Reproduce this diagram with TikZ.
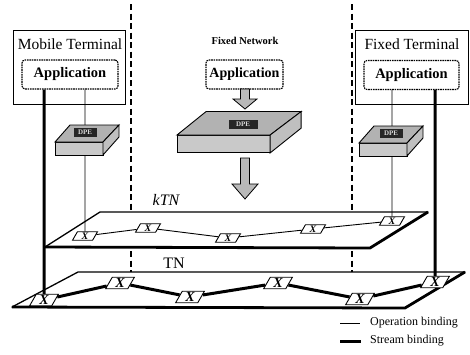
\documentclass[tikz,border=0pt]{standalone}
\usepackage{fontspec}
\setmainfont{Liberation Serif}[BoldFont={Liberation Serif Bold}, ItalicFont={Liberation Serif Italic}, BoldItalicFont={Liberation Serif Bold Italic}]
\usetikzlibrary{shapes.geometric}

\tikzset{
  termbox/.style={draw, line width=0.9pt, fill=white, inner sep=0pt},
  termtitle/.style={font=\fontsize{15.5}{16}\selectfont, inner sep=0pt},
  appbox/.style={draw, line width=1.1pt, dash pattern=on 1.6pt off 0.8pt,
    rounded corners=3pt, fill=white, inner sep=0pt,
    font=\fontsize{14.5}{15}\selectfont\bfseries},
  xnode/.style={draw, fill=white, line width=0.9pt, trapezium,
    trapezium left angle=60, trapezium right angle=120,
    inner xsep=1.5pt, inner ysep=0pt, minimum height=11.5pt,
    font=\fontsize{14}{14}\selectfont\itshape\bfseries},
  kxnode/.style={xnode, minimum height=8.5pt, inner xsep=2.5pt,
    font=\fontsize{10}{10}\selectfont\itshape\bfseries},
  opbind/.style={line width=0.9pt},
  stbind/.style={line width=3pt, line join=round},
  separator/.style={line width=1.6pt, dash pattern=on 6pt off 3.5pt},
  plane/.style={draw, fill=white, line width=1.3pt, line join=round},
  planeedge/.style={line width=2.8pt, line join=round},
  dpefront/.style={fill=gray!42, draw=black, line width=0.9pt},
  dpetop/.style={fill=gray!60, draw=black, line width=0.9pt},
  dpeside/.style={fill=gray!50, draw=black, line width=0.9pt},
  dpelabel/.style={fill=black!85, text=white!85!black, inner sep=1pt,
    font=\fontsize{7}{7}\selectfont\bfseries, minimum height=9pt},
  blockarrow/.style={fill=gray!55, draw=black, line width=0.8pt, line join=miter},
  pics/dpeslab/.style={code={
    \filldraw[dpefront] (0,0) rectangle (48,13);
    \filldraw[dpetop] (0,0) -- (48,0) -- (64,-17) -- (15,-17) -- cycle;
    \filldraw[dpeside] (48,0) -- (64,-17) -- (64,-5) -- (48,13) -- cycle;
  }}
}

\begin{document}
\begin{tikzpicture}[x=1pt, y=-1pt]
\useasboundingbox (0,0) rectangle (470,354);

% domain separators (the planes hide the parts behind them)
\coordinate (sepLa) at (131,4);
\coordinate (sepLb) at (131,272);
\coordinate (sepRa) at (352,4);
\coordinate (sepRb) at (352,272);
\draw[separator] (sepLa) -- (sepLb);
\draw[separator] (sepRa) -- (sepRb);

% TN plane
\filldraw[plane] (12,307) -- (78,272) -- (465,272) -- (405,308) -- cycle;
\draw[planeedge] (12,307) -- (405,308) -- (465,272);
% kTN plane
\filldraw[plane] (45,247) -- (100,212) -- (428,212) -- (370,248) -- cycle;
\draw[planeedge] (45,247) -- (370,248) -- (428,212);

\node[font=\fontsize{16}{16}\selectfont\itshape] (ktnlbl) at (166,200) {kTN};
\node[font=\fontsize{16}{16}\selectfont] (tnlbl) at (174,263) {TN};

% nodes on the TN plane
\node[xnode] (tn1) at (44,300) {X};
\node[xnode] (tn2) at (120,283) {X};
\node[xnode] (tn3) at (190,297) {X};
\node[xnode] (tn4) at (278,283) {X};
\node[xnode] (tn5) at (360,299) {X};
\node[xnode] (tn6) at (435,282) {X};

% nodes on the kTN plane
\node[kxnode] (ktn1) at (85,236) {X};
\node[kxnode] (ktn2) at (148,228) {X};
\node[kxnode] (ktn3) at (228,238) {X};
\node[kxnode] (ktn4) at (313,229) {X};
\node[kxnode] (ktn5) at (392,221) {X};

% stream and operation bindings along the planes
\draw[stbind] (tn1) -- (tn2) -- (tn3) -- (tn4) -- (tn5) -- (tn6);
\draw[opbind] (ktn1) -- (ktn2) -- (ktn3) -- (ktn4) -- (ktn5);

% terminals
\node[termbox, minimum width=112pt, minimum height=74pt] (mt) at (69,67) {};
\node[termtitle] (mttitle) at (70,44) {Mobile Terminal};
\node[appbox, minimum width=96pt, minimum height=29pt] (mtapp) at (70,74.5) {Application};

\node[termbox, minimum width=113pt, minimum height=74pt] (ft) at (411.5,67) {};
\node[termtitle] (fttitle) at (412,44) {Fixed Terminal};
\node[appbox, minimum width=95pt, minimum height=29pt] (ftapp) at (411.5,75) {Application};

\node[font=\fontsize{10.5}{11}\selectfont\bfseries] (fntitle) at (245,41) {Fixed Network};
\node[appbox, minimum width=77pt, minimum height=29pt, font=\fontsize{14}{15}\selectfont\bfseries] (fnapp) at (244.5,74.5) {Application};

% vertical bindings from the terminals
\draw[opbind] (ktn1.north |- mtapp.south) -- (ktn1);
\draw[stbind] (tn1.north |- mtapp.south) -- (tn1);
\draw[opbind] (ktn5.north |- ftapp.south) -- (ktn5);
\draw[stbind] (tn6.north |- ftapp.south) -- (tn6);

% DPE slabs
\pic at (55,142) {dpeslab};
\pic at (359,143) {dpeslab};
\pic[xscale=1.94, yscale=1.38] at (177,135) {dpeslab};
\node[dpelabel, minimum width=23pt] (dpeL) at (85,132) {DPE};
\node[dpelabel, minimum width=23pt] (dpeR) at (391,133) {DPE};
\node[dpelabel, minimum width=29pt] (dpeM) at (243,124) {DPE};

% grey block arrows in the fixed network
\draw[blockarrow] (240.5,89) -- (240.5,99) -- (233,99) -- (245,109)
  -- (257,99) -- (249.5,99) -- (249.5,89) -- cycle;
\draw[blockarrow] (240.5,158) -- (240.5,184) -- (232,184) -- (245,199)
  -- (258,184) -- (249.5,184) -- (249.5,158) -- cycle;

% legend
\node[anchor=west, inner sep=0pt, font=\fontsize{12}{12}\selectfont] (lgop) at (370,323) {Operation binding};
\node[anchor=west, inner sep=0pt, font=\fontsize{12}{12}\selectfont] (lgst) at (370,341) {Stream binding};
\draw[opbind] ([xshift=-30pt]lgop.west) -- ([xshift=-10pt]lgop.west);
\draw[stbind] ([xshift=-30pt]lgst.west) -- ([xshift=-9pt]lgst.west);
\end{tikzpicture}
\end{document}
